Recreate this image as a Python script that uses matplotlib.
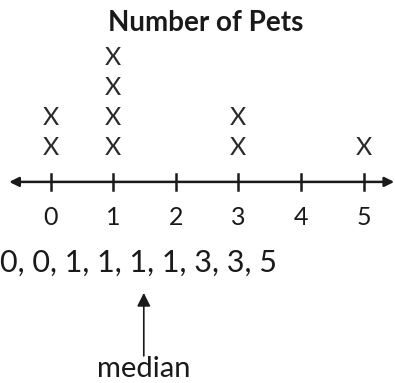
import matplotlib.pyplot as plt

# number of pets owned by each person
pets = [0, 0, 1, 1, 1, 1, 3, 3, 5]
scale_values = [0, 1, 2, 3, 4, 5]
title = 'Number of Pets'

plt.rcParams['font.family'] = ['Lato', 'DejaVu Sans']

fig = plt.figure(figsize=(3.95, 3.83), dpi=100)
ax = fig.add_axes([0, 0, 1, 1])
ax.set_xlim(-0.807, 5.503)
ax.set_ylim(-6.833, 5.933)
ax.axis('off')

ink = '#1a1a1a'

# line plot: stack an X for each value
counts = {}
for v in pets:
    counts[v] = counts.get(v, 0) + 1
    ax.text(v, counts[v], 'X', ha='center', va='center', fontsize=18,
            color='#2a2a2a')

# number line with arrows on both ends
line_y = -0.13
ax.annotate('', xy=(-0.66, line_y), xytext=(5.49, line_y),
            arrowprops=dict(arrowstyle='<|-|>', color=ink, lw=1.8,
                            mutation_scale=14, shrinkA=0, shrinkB=0))
for v in scale_values:
    ax.plot([v, v], [line_y - 0.26, line_y + 0.26], color=ink, lw=1.8)
    ax.text(v, -1.33, str(v), ha='center', va='center', fontsize=18,
            color=ink)

ax.text(2.48, 5.17, title, ha='center', va='center', fontsize=20,
        fontweight='bold', color=ink)

# ordered list and median arrow
ordered = sorted(pets)
ax.text(-0.8, -2.83, ', '.join(str(v) for v in ordered), ha='left',
        va='center', fontsize=22, color=ink)

ax.annotate('', xy=(1.49, -3.83), xytext=(1.49, -5.93),
            arrowprops=dict(arrowstyle='-|>', color=ink, lw=1.2,
                            mutation_scale=20, shrinkA=0, shrinkB=0))
ax.text(1.49, -6.38, 'median', ha='center', va='center', fontsize=21,
        color=ink)

fig.savefig('out.png', dpi=100)
